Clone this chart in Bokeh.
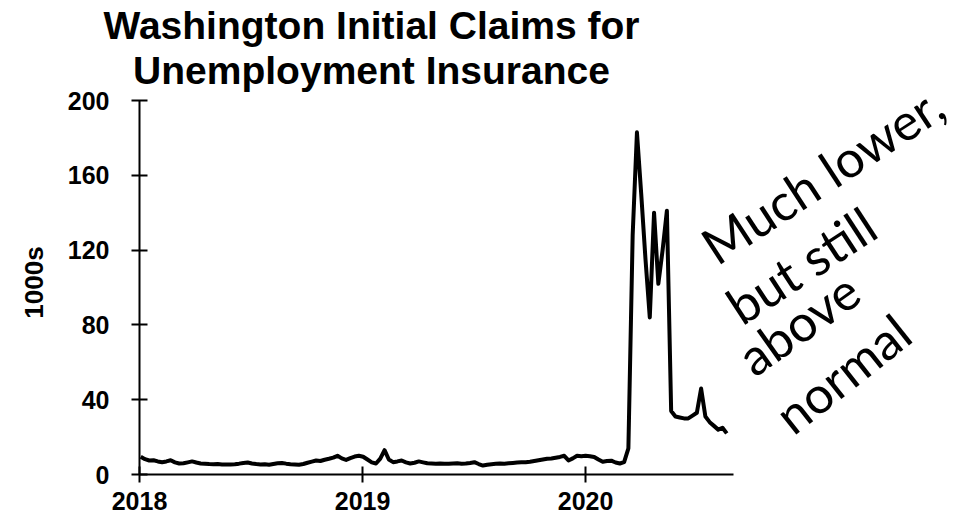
import math
import pandas as pd
from bokeh.plotting import figure
from bokeh.models import Range1d, FixedTicker, DatetimeTickFormatter, Label
from bokeh.embed import file_html
from bokeh.resources import INLINE

# Weekly initial claims, thousands
claims_2018 = [9.5, 8.2, 7.5, 7.6, 7.0, 6.6, 7.0, 7.6, 6.5, 5.9, 6.0, 6.5, 7.0, 6.4, 5.9, 5.8,
               5.6, 5.5, 5.6, 5.4, 5.3, 5.4, 5.5, 5.8, 6.2, 6.4, 5.9, 5.6, 5.4, 5.5, 5.2, 5.6,
               6.0, 6.2, 5.8, 5.5, 5.4, 5.2, 5.6, 6.3, 6.9, 7.5, 7.2, 7.9, 8.4, 9.0, 10.0, 8.6,
               7.8, 8.8, 9.6, 10.0]
claims_2019 = [9.5, 8.0, 6.5, 5.9, 8.5, 13.0, 8.0, 6.6, 7.0, 7.5, 6.5, 5.9, 6.3, 7.0, 6.5, 6.0,
               5.9, 5.8, 5.9, 5.8, 5.7, 5.9, 6.0, 5.8, 5.9, 6.2, 6.6, 5.6, 4.8, 5.2, 5.5, 5.7,
               5.9, 5.8, 6.0, 6.2, 6.4, 6.5, 6.6, 6.8, 7.2, 7.6, 8.0, 8.4, 8.6, 9.0, 9.4, 10.0,
               7.5, 8.6, 10.0, 9.8]
claims_2020 = [10.0, 9.8, 9.4, 8.0, 6.8, 7.2, 7.4, 6.4, 5.9, 6.6, 14.0, 128.0, 183.0, 150.0,
               115.0, 84.0, 140.0, 102.0, 120.0, 141.0, 34.0, 31.0, 30.5, 30.0, 30.0, 31.5,
               33.0, 46.0, 31.0, 28.0, 26.0, 24.0, 25.0, 22.0]

values = claims_2018 + claims_2019 + claims_2020
weeks = pd.date_range("2018-01-03", periods=len(values), freq="7D")

year_ticks = ["2018-01-01", "2019-01-01", "2020-01-01"]
y_ticks = [0, 40, 80, 120, 160, 200]
x_axis_start, x_axis_end = "2018-01-01", "2020-08-30"
y_axis_start, y_axis_end = 0, 200
title_lines = ["Washington Initial Claims for", "Unemployment Insurance"]
note_lines = ["Much lower,", "but still", "above", "normal"]
y_label = "1000s"

# ---- layout (pixels) ----
W, H = 962, 520
AX_LEFT, AX_RIGHT = 139, 733     # x pixel of axis start / end
AX_BOTTOM, AX_TOP = 474, 100     # y pixel of 0 / 200

def ms(d):
    return pd.Timestamp(d).value / 1e6

xa0, xa1 = ms(x_axis_start), ms(x_axis_end)
ppx = (AX_RIGHT - AX_LEFT) / (xa1 - xa0)
x_lo = xa0 - AX_LEFT / ppx
x_hi = xa0 + (W - AX_LEFT) / ppx
ppy = (AX_BOTTOM - AX_TOP) / (y_axis_end - y_axis_start)
y_lo = y_axis_start - (H - AX_BOTTOM) / ppy
y_hi = y_axis_end + AX_TOP / ppy

p = figure(width=W, height=H, x_axis_type="datetime",
           output_backend="svg", toolbar_location=None,
           x_range=Range1d(x_lo, x_hi), y_range=Range1d(y_lo, y_hi),
           min_border_left=0, min_border_right=0, min_border_top=0,
           min_border_bottom=0)
p.outline_line_color = None
p.xgrid.grid_line_color = None
p.ygrid.grid_line_color = None
p.background_fill_color = "white"
p.border_fill_color = "white"

p.line(weeks, values, line_width=4, line_color="black", line_join="round")

for ax in (p.xaxis[0], p.yaxis[0]):
    ax.axis_line_width = 2
    ax.axis_line_color = "black"
    ax.major_tick_in = 8
    ax.major_tick_out = 8
    ax.major_tick_line_width = 2
    ax.major_tick_line_color = "black"
    ax.minor_tick_in = 0
    ax.minor_tick_out = 0
    ax.major_label_text_font = "Liberation Sans"
    ax.major_label_text_font_style = "bold"
    ax.major_label_text_font_size = "25px"
    ax.major_label_text_color = "black"

p.yaxis[0].ticker = FixedTicker(ticks=y_ticks)
p.yaxis[0].bounds = (y_axis_start, y_axis_end)
p.yaxis[0].fixed_location = xa0
p.yaxis[0].major_label_standoff = 22

p.xaxis[0].ticker = FixedTicker(ticks=[ms(t) for t in year_ticks])
p.xaxis[0].formatter = DatetimeTickFormatter(years="%Y", months="%Y", days="%Y", hours="%Y")
p.xaxis[0].bounds = (xa0, xa1)
p.xaxis[0].fixed_location = y_axis_start
p.xaxis[0].major_label_standoff = 9

def sy(y_px):
    return H - y_px

# y-axis label
p.add_layout(Label(x=33, y=sy(282), x_units="screen", y_units="screen", text=y_label,
                   angle=math.pi / 2, text_align="center", text_baseline="middle",
                   text_font="Liberation Sans", text_font_style="bold",
                   text_font_size="26px", text_color="black"))

# Title (two centred lines)
for txt, yy in zip(title_lines, [25, 70]):
    p.add_layout(Label(x=371, y=sy(yy), x_units="screen", y_units="screen", text=txt,
                       text_align="center", text_baseline="alphabetic",
                       text_font="Liberation Sans", text_font_style="bold",
                       text_font_size="39px", text_color="black"))

# Handwritten note
note_pos = [(706, 250), (731, 310), (743, 362), (781, 421)]
note_angle = [0.58, 0.58, 0.62, 0.67]
for txt, (xx, yy), ang in zip(note_lines, note_pos, note_angle):
    p.add_layout(Label(x=xx, y=sy(yy), x_units="screen", y_units="screen", text=txt,
                       angle=ang, angle_units="rad",
                       text_align="left", text_baseline="alphabetic",
                       text_font="Lato", text_font_size="51px", text_color="black"))

open("out.html", "w").write(file_html(p, INLINE))
